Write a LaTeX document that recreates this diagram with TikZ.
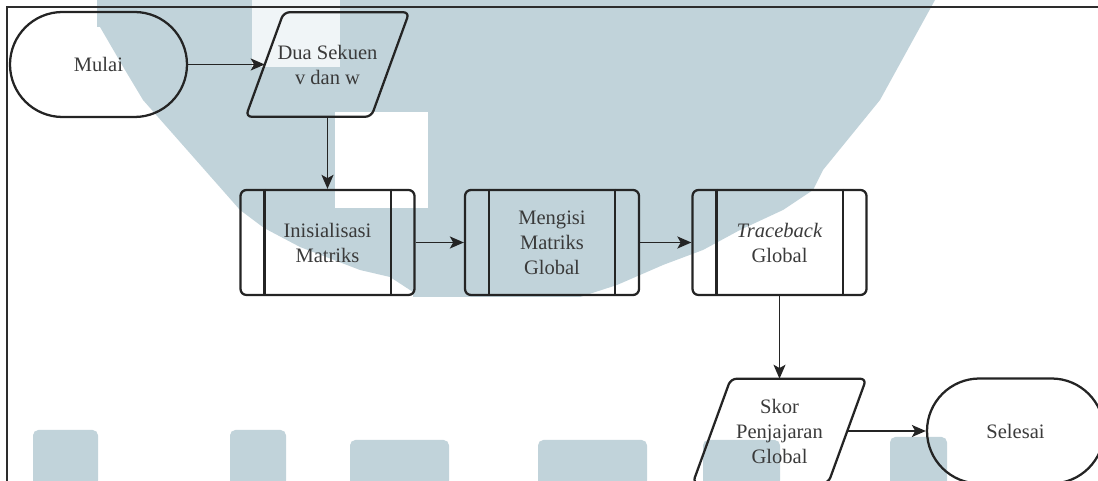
\documentclass[tikz,border=0pt]{standalone}
\usepackage{fontspec}
\setmainfont{Liberation Serif}
\usetikzlibrary{arrows.meta,shapes.misc,calc}
\definecolor{wm}{RGB}{193,211,218}
\definecolor{wmlight}{RGB}{240,245,247}
\definecolor{ink}{RGB}{36,36,36}
\definecolor{txt}{RGB}{58,58,58}
\definecolor{frame}{RGB}{45,45,45}
\tikzset{
  shapeline/.style={draw=ink, line width=1.7pt},
  labeltext/.style={text=txt, align=center, inner sep=0pt,
    font=\fontsize{15.4pt}{18.75pt}\selectfont},
  terminal/.style={rounded rectangle, shapeline, labeltext,
    minimum width=132.75pt, minimum height=78.75pt},
  iobox/.style={rectangle, labeltext, minimum width=#1, minimum height=78pt},
  procbox/.style={rectangle, shapeline, labeltext, rounded corners=4.5pt,
    minimum width=130.5pt, minimum height=78.75pt},
  flow/.style={draw=ink, line width=1.3pt,
    -{Stealth[length=10.5pt,width=9pt,inset=2.5pt]}},
}
\begin{document}
\begin{tikzpicture}[x=0.75pt,y=0.75pt]
\useasboundingbox (0,0) rectangle (1098,481);
\clip (0,0) rectangle (1098,481);

% background logo watermark
\fill[wm] (97,481) -- (935,481) -- (880,381) -- (823,311) -- (813,291)
  -- (783,271) -- (740,251) -- (703,231) -- (663,216) -- (617,196)
  -- (580,184) -- (413,184) -- (413,189) -- (390,204) -- (360,211)
  -- (300,234) -- (264,253) -- (240,271) -- (143,381) -- (125,411)
  -- (100,454) -- (97,454) -- cycle;
\fill[white] (335,273) rectangle (428,369);
\fill[wmlight] (252,414) rectangle (340,481);
\foreach \xa/\xb/\yt in {33/98/51, 230/286/51, 350/449/41, 538/647/41,
                         703/780/41, 890/947/44}
  \fill[wm, rounded corners=4pt] (\xa,-5) rectangle (\xb,\yt);

% page frame
\draw[frame, line width=1.5pt] (1100,474) -- (7,474) -- (7,-2);

% nodes
\node[terminal] (mulai) at (98.5,416.5) {Mulai};
\node[iobox=93.75pt] (dua) at (327.5,416.5) {Dua Sekuen\\v dan w};
\node[procbox] (init) at (327.5,238.5) {Inisialisasi\\Matriks};
\node[procbox] (isi) at (552,238.5) {Mengisi\\Matriks\\Global};
\node[procbox] (trace) at (779.5,238.5) {\textit{Traceback}\\Global};
\node[iobox=101.25pt] (skor) at (779.5,50) {Skor\\Penjajaran\\Global};
\node[terminal] (selesai) at (1015.5,50) {Selesai};

% parallelogram outlines of the data nodes
\foreach \n in {dua,skor}
  \draw[shapeline, rounded corners=4.5pt]
    ($(\n.north west)+(14.25pt,0)$) -- ($(\n.north east)+(14.25pt,0)$)
    -- ($(\n.south east)+(-14.25pt,0)$) -- ($(\n.south west)+(-14.25pt,0)$)
    -- cycle;

% side bars of the predefined-process boxes
\foreach \n in {init,isi,trace} {
  \draw[shapeline] ($(\n.north west)+(18.75pt,0)$) -- ($(\n.south west)+(18.75pt,0)$);
  \draw[shapeline] ($(\n.north east)+(-18.75pt,0)$) -- ($(\n.south east)+(-18.75pt,0)$);
}

% connectors
\draw[flow] (mulai.east) -- (dua.west);
\draw[flow] (dua.south) -- (init.north);
\draw[flow] (init.east) -- (isi.west);
\draw[flow] (isi.east) -- (trace.west);
\draw[flow] (trace.south) -- (skor.north);
\draw[flow] (skor.east) -- (selesai.west);
\end{tikzpicture}
\end{document}
